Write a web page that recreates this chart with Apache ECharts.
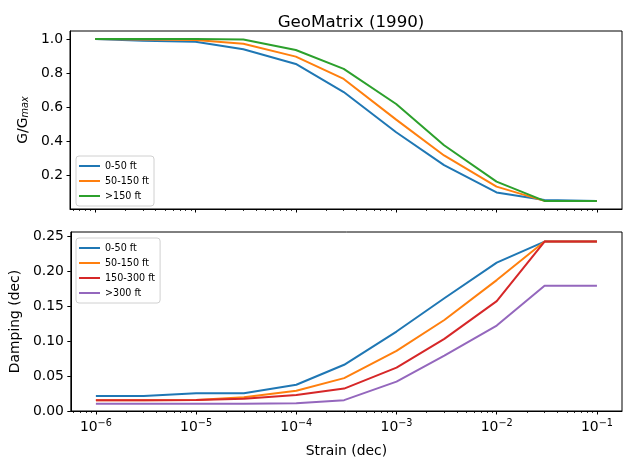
<!DOCTYPE html>
<html>
<head>
<meta charset="utf-8">
<script src="https://cdn.jsdelivr.net/npm/echarts@6/dist/echarts.min.js"></script>
<style>
	html, body { margin: 0; padding: 0; background: #fff; }
	#chart { width: 629px; height: 469px; }
</style>
</head>
<body>
<div id="chart"></div>
<script>
// strain (dec)
var strain = [1e-6, 3e-6, 1e-5, 3e-5, 1e-4, 3e-4, 1e-3, 3e-3, 1e-2, 3e-2, 1e-1];

// G/Gmax
var ggmax_0_50 = [1.0, 0.99, 0.984, 0.94, 0.854, 0.689, 0.453, 0.26, 0.10, 0.056, 0.05];
var ggmax_50_150 = [1.0, 0.997, 0.994, 0.973, 0.897, 0.766, 0.527, 0.317, 0.134, 0.05, 0.05];
var ggmax_150 = [1.0, 1.0, 1.0, 0.997, 0.936, 0.825, 0.619, 0.377, 0.163, 0.05, 0.05];

// Damping (dec)
var damp_0_50 = [0.0216, 0.0216, 0.0255, 0.0255, 0.0375, 0.066, 0.1135, 0.161, 0.212, 0.242, 0.242];
var damp_50_150 = [0.0155, 0.0155, 0.0158, 0.0195, 0.029, 0.047, 0.086, 0.130, 0.187, 0.242, 0.242];
var damp_150_300 = [0.0155, 0.0155, 0.0158, 0.0175, 0.023, 0.032, 0.062, 0.103, 0.157, 0.242, 0.242];
var damp_300 = [0.0105, 0.0105, 0.0105, 0.0105, 0.011, 0.0155, 0.042, 0.079, 0.122, 0.179, 0.179];

var xMajor = [-6, -5, -4, -3, -2, -1];
var topTicks = [0.2, 0.4, 0.6, 0.8, 1.0];

var font = 'DejaVu Sans';
var xMin = -6.25, xMax = -0.75;

var xMinor = [];
for (var e = -7; e <= 0; e++) {
	for (var k = 2; k <= 9; k++) {
		var v = e + Math.log10(k);
		if (v > xMin && v < xMax) xMinor.push(v);
	}
}

var pts = function(vals) {
	return strain.map(function(s, i) { return [Math.log10(s), vals[i]]; });
};

var mkLine = function(name, vals, color, idx) {
	return {
		name: name,
		type: 'line',
		xAxisIndex: idx * 2,
		yAxisIndex: idx,
		data: pts(vals),
		symbol: 'none',
		lineStyle: { color: color, width: 2 },
		itemStyle: { color: color },
		animation: false
	};
};

var majorX = function(grid, labels) {
	return {
		type: 'value', gridIndex: grid, min: xMin, max: xMax, position: 'bottom',
		splitLine: { show: false },
		axisLine: { show: true, onZero: false, lineStyle: { color: '#000', width: 1 } },
		axisTick: { show: true, length: 3.5, customValues: xMajor, lineStyle: { color: '#000', width: 1 } },
		axisLabel: {
			show: labels, customValues: xMajor, margin: 7,
			fontFamily: font, fontSize: 13.9, color: '#000',
			formatter: function(v) { return '10{sup|' + '\u2212' + Math.abs(Math.round(v)) + '}'; },
			rich: { sup: { fontFamily: font, fontSize: 9.7, color: '#000', padding: [0, 0, 8, 0] } }
		},
		name: labels ? 'Strain (dec)' : '',
		nameLocation: 'middle', nameGap: 33,
		nameTextStyle: { fontFamily: font, fontSize: 13.9, color: '#000' }
	};
};

var minorX = function(grid) {
	return {
		type: 'value', gridIndex: grid, min: xMin, max: xMax, position: 'bottom',
		splitLine: { show: false },
		axisLine: { show: false, onZero: false },
		axisTick: { show: true, length: 2, customValues: xMinor, lineStyle: { color: '#000', width: 0.8 } },
		axisLabel: { show: false }
	};
};

var chart = echarts.init(document.getElementById('chart'));
var option = {
	backgroundColor: '#fff',
	animation: false,
	title: {
		text: 'GeoMatrix (1990)',
		left: 346, top: 9,
		textAlign: 'center',
		textStyle: { fontFamily: font, fontSize: 16.7, fontWeight: 'normal', color: '#000' }
	},
	grid: [
		{ left: 70, right: 7, top: 31, height: 178, show: true, borderColor: '#000', borderWidth: 1 },
		{ left: 70, right: 7, top: 232, height: 179, show: true, borderColor: '#000', borderWidth: 1 }
	],
	legend: [
		{
			data: ['0-50 ft', '50-150 ft', '>150 ft'],
			orient: 'vertical', left: 76, top: 156,
			icon: 'rect', itemWidth: 21, itemHeight: 2, itemGap: 5,
			padding: [5, 5, 5, 3],
			borderColor: '#d0d0d0', borderWidth: 1, borderRadius: 3, backgroundColor: '#fff',
			textStyle: { fontFamily: font, fontSize: 9.6, color: '#000', lineHeight: 10 }
		},
		{
			data: ['0-50 ft', '50-150 ft', '150-300 ft', '>300 ft'],
			orient: 'vertical', left: 76, top: 238,
			icon: 'rect', itemWidth: 21, itemHeight: 2, itemGap: 5,
			padding: [5, 5, 5, 3],
			borderColor: '#d0d0d0', borderWidth: 1, borderRadius: 3, backgroundColor: '#fff',
			textStyle: { fontFamily: font, fontSize: 9.6, color: '#000', lineHeight: 10 }
		}
	],
	xAxis: [majorX(0, false), minorX(0), majorX(1, true), minorX(1)],
	yAxis: [
		{
			type: 'value', gridIndex: 0, min: 0.0025, max: 1.0475,
			splitLine: { show: false },
			axisLine: { show: true, lineStyle: { color: '#000', width: 1 } },
			axisTick: { show: true, length: 3.5, customValues: topTicks, lineStyle: { color: '#000' } },
			axisLabel: {
				customValues: topTicks, margin: 7, fontFamily: font, fontSize: 13.9, color: '#000',
				formatter: function(v) { return v.toFixed(1); }
			},
			name: 'G/G{sub|max}',
			nameLocation: 'middle', nameGap: 40,
			nameTextStyle: {
				fontFamily: font, fontSize: 13.9, color: '#000',
				rich: { sub: { fontFamily: font, fontSize: 9.7, fontStyle: 'italic', color: '#000', padding: [4, 0, 0, 0] } }
			}
		},
		{
			type: 'value', gridIndex: 1, min: 0, max: 0.2557, interval: 0.05,
			splitLine: { show: false },
			axisLine: { show: true, lineStyle: { color: '#000', width: 1 } },
			axisTick: { show: true, length: 3.5, lineStyle: { color: '#000' } },
			axisLabel: {
				margin: 7, fontFamily: font, fontSize: 13.9, color: '#000', showMaxLabel: false,
				formatter: function(v) { return v.toFixed(2); }
			},
			name: 'Damping (dec)',
			nameLocation: 'middle', nameGap: 48,
			nameTextStyle: { fontFamily: font, fontSize: 13.9, color: '#000' }
		}
	],
	series: [
		mkLine('0-50 ft', ggmax_0_50, '#1f77b4', 0),
		mkLine('50-150 ft', ggmax_50_150, '#ff7f0e', 0),
		mkLine('>150 ft', ggmax_150, '#2ca02c', 0),
		mkLine('0-50 ft', damp_0_50, '#1f77b4', 1),
		mkLine('50-150 ft', damp_50_150, '#ff7f0e', 1),
		mkLine('150-300 ft', damp_150_300, '#d62728', 1),
		mkLine('>300 ft', damp_300, '#9467bd', 1)
	]
};
chart.setOption(option);
</script>
</body>
</html>
